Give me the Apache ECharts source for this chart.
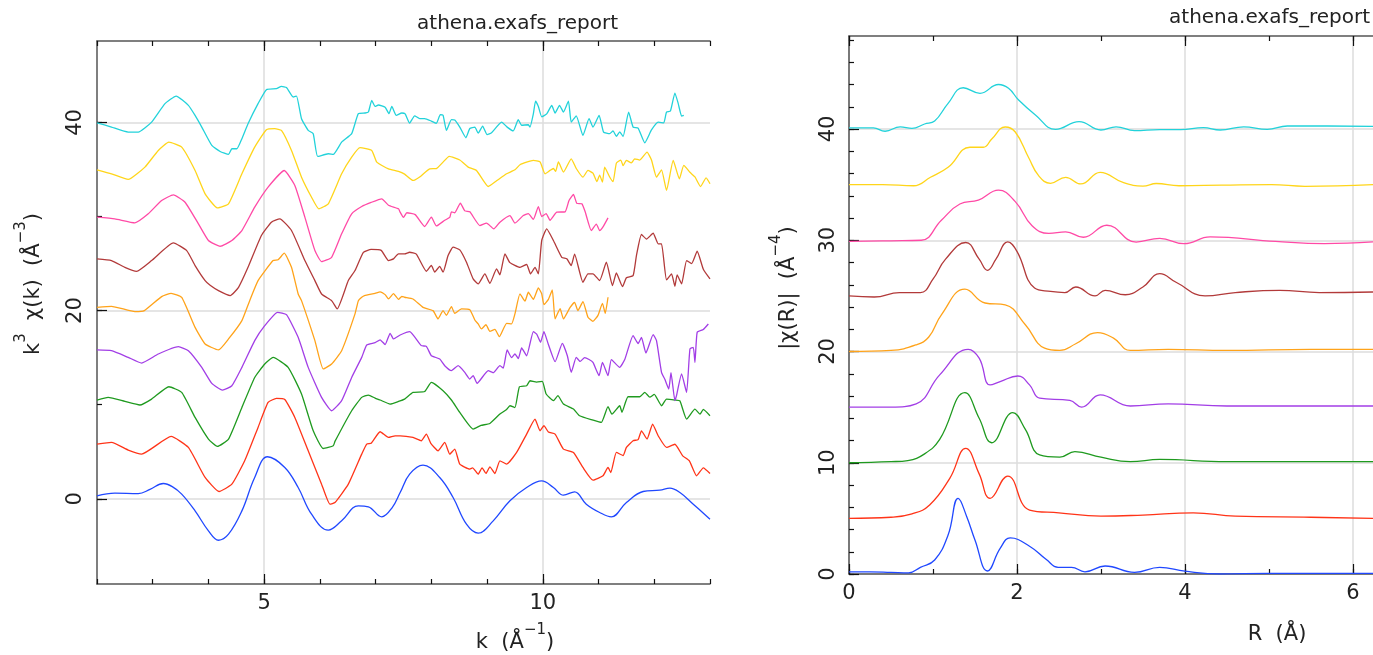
<!DOCTYPE html>
<html><head><meta charset="utf-8">
<script src="https://cdn.jsdelivr.net/npm/echarts@6/dist/echarts.min.js"></script>
<style>html,body{margin:0;padding:0;background:#fff}#c{width:1373px;height:655px}</style>
</head><body><div id="c"></div>
<script>
// ---------- tick definitions ----------
const kMinorTicks = [2,3,4,5,6,7,8,9,10,11,12,13];
const kMajorTicks = [5,10];
const chiMinorTicks = [0,10,20,30,40];
const chiMajorTicks = [0,20,40];
const rMinorTicks = [0,1,2,3,4,5,6];
const rMajorTicks = [0,2,4,6];
const ftMinorTicks = [0,2,4,6,8,10,12,14,16,18,20,22,24,26,28,30,32,34,36,38,40,42,44,46,48];
const ftMajorTicks = [0,10,20,30,40];

// ---------- k-space data: [k, k^3 chi(k) + offset] ----------
const chiBlue = [[2.00,0.32],[2.32,0.6],[2.74,0.56],[2.95,1.0],[3.19,1.63],[3.35,1.3],[3.52,0.5],[3.76,-1.28],[4.00,-3.4],[4.18,-4.4],[4.36,-3.76],[4.60,-1.28],[4.83,2.27],[5.06,4.47],[5.37,3.33],[5.61,1.2],[5.85,-1.63],[6.15,-3.33],[6.39,-2.34],[6.69,-0.74],[6.87,-0.85],[7.11,-1.91],[7.30,-0.9],[7.44,0.67],[7.61,2.62],[7.85,3.58],[8.15,2.27],[8.39,0.14],[8.63,-2.7],[8.84,-3.65],[9.11,-2.34],[9.41,-0.21],[9.71,1.2],[9.98,1.91],[10.19,1.2],[10.37,0.39],[10.57,0.74],[10.78,-0.57],[11.02,-1.45],[11.23,-1.91],[11.5,-0.39],[11.8,0.78],[12.1,0.92],[12.28,1.14],[12.46,0.67],[12.7,-0.57],[13.0,-2.16]];
const chiRed = [[2.00,5.82],[2.26,5.99],[2.56,5.18],[2.80,4.75],[3.33,6.63],[3.64,5.46],[3.94,2.27],[4.19,0.78],[4.42,1.56],[4.65,4.04],[4.89,7.59],[5.07,10.24],[5.22,10.67],[5.37,10.56],[5.55,8.65],[5.79,5.1],[6.03,1.56],[6.18,-0.57],[6.27,-0.39],[6.51,1.56],[6.75,4.75],[6.84,5.82],[6.92,5.9],[7.08,7.13],[7.23,6.52],[7.35,6.7],[7.44,6.7],[7.67,6.52],[7.82,6.17],[7.91,6.88],[7.99,5.9],[8.12,5.1],[8.24,6.0],[8.33,4.75],[8.42,5.28],[8.51,3.69],[8.69,3.16],[8.74,3.3],[8.84,2.62],[8.91,3.3],[8.98,2.7],[9.05,3.4],[9.14,2.69],[9.23,4.04],[9.35,3.69],[9.53,4.93],[9.71,6.88],[9.86,8.47],[9.95,7.23],[10.02,7.77],[10.10,7.1],[10.22,6.88],[10.37,5.28],[10.55,4.93],[10.72,3.33],[10.90,1.98],[11.08,2.45],[11.17,3.33],[11.22,2.8],[11.32,4.93],[11.44,4.6],[11.50,5.46],[11.62,6.17],[11.71,6.3],[11.77,7.23],[11.87,6.35],[11.97,7.94],[12.07,6.7],[12.22,5.46],[12.37,5.8],[12.51,4.57],[12.63,4.04],[12.76,2.45],[12.88,3.3],[13.0,2.69]];
const chiGreen = [[2.00,10.5],[2.20,10.78],[2.50,10.35],[2.77,9.97],[2.98,10.6],[3.29,11.91],[3.52,11.31],[3.76,8.65],[4.00,6.35],[4.16,5.57],[4.36,6.35],[4.60,9.71],[4.83,12.9],[5.01,14.33],[5.16,15.03],[5.43,13.97],[5.67,11.14],[5.88,7.23],[6.06,5.35],[6.24,5.64],[6.27,6.1],[6.57,9.36],[6.75,10.78],[6.87,11.03],[6.99,10.7],[7.08,10.5],[7.26,10.07],[7.41,10.35],[7.52,10.6],[7.67,11.31],[7.88,11.4],[8.00,12.37],[8.21,11.49],[8.36,10.5],[8.51,9.18],[8.75,7.41],[8.89,7.8],[9.05,8.01],[9.23,9.01],[9.35,9.5],[9.41,9.89],[9.50,9.7],[9.58,11.91],[9.71,12.02],[9.77,12.55],[9.89,12.4],[9.99,12.48],[10.06,11.14],[10.19,10.43],[10.27,10.96],[10.37,10.07],[10.55,9.54],[10.66,8.83],[10.90,8.37],[11.05,8.12],[11.17,9.79],[11.24,9.0],[11.38,9.89],[11.42,9.2],[11.53,10.85],[11.74,10.85],[11.83,11.31],[11.92,10.8],[12.00,11.1],[12.13,9.89],[12.22,10.6],[12.37,10.5],[12.46,10.4],[12.58,8.47],[12.73,9.54],[12.82,9.0],[12.88,9.5],[13.0,8.83]];
const chiPurple = [[2.00,15.82],[2.26,15.74],[2.56,15.03],[2.80,14.43],[3.10,15.39],[3.46,16.17],[3.64,15.74],[3.88,13.97],[4.06,12.27],[4.25,11.56],[4.42,12.02],[4.60,13.97],[4.83,16.81],[5.01,18.4],[5.24,19.82],[5.40,19.57],[5.61,17.16],[5.79,13.97],[6.03,10.78],[6.21,9.36],[6.39,10.43],[6.57,12.9],[6.75,15.03],[6.84,16.35],[6.99,16.6],[7.08,16.9],[7.17,16.4],[7.26,17.59],[7.32,17.0],[7.44,17.41],[7.61,17.77],[7.82,16.28],[7.91,16.2],[8.00,15.21],[8.15,14.86],[8.24,14.15],[8.36,13.62],[8.48,14.15],[8.60,13.44],[8.69,12.73],[8.75,13.1],[8.82,12.27],[9.02,13.62],[9.11,13.4],[9.23,14.15],[9.29,13.9],[9.36,15.82],[9.44,15.0],[9.50,15.4],[9.56,14.9],[9.62,16.03],[9.71,15.2],[9.83,17.77],[9.89,17.5],[9.96,16.63],[10.02,17.77],[10.10,16.4],[10.22,14.57],[10.35,16.52],[10.44,15.2],[10.51,13.44],[10.60,15.03],[10.67,14.6],[10.75,15.0],[10.83,14.8],[10.90,14.5],[11.01,13.09],[11.07,14.5],[11.17,13.09],[11.23,14.8],[11.38,13.97],[11.47,14.8],[11.62,17.34],[11.71,16.5],[11.77,17.16],[11.85,15.5],[11.98,17.45],[12.04,16.8],[12.13,13.44],[12.19,12.7],[12.26,11.67],[12.30,13.4],[12.37,10.43],[12.40,11.0],[12.49,13.27],[12.58,11.31],[12.64,15.92],[12.70,16.1],[12.73,14.5],[12.77,17.7],[12.88,18.0],[12.97,18.58]];
const chiOrange = [[2.00,20.35],[2.26,20.46],[2.68,19.89],[2.85,20.0],[3.16,21.49],[3.33,21.84],[3.52,21.4],[3.76,18.22],[3.94,16.46],[4.18,15.82],[4.36,16.99],[4.60,18.94],[4.74,21.06],[4.89,23.19],[5.16,25.32],[5.25,25.4],[5.36,26.1],[5.49,24.6],[5.61,21.77],[5.67,21.06],[5.91,16.81],[6.06,13.8],[6.21,14.33],[6.39,15.74],[6.63,19.65],[6.69,21.06],[6.75,21.42],[6.80,21.6],[6.99,21.84],[7.08,22.0],[7.17,21.7],[7.23,21.24],[7.32,21.8],[7.41,21.2],[7.47,21.5],[7.52,21.42],[7.67,21.24],[7.85,20.35],[8.03,20.0],[8.12,19.12],[8.21,20.0],[8.27,19.5],[8.36,20.43],[8.42,19.7],[8.54,20.18],[8.69,20.1],[8.78,19.0],[8.84,18.58],[8.90,18.05],[8.98,18.5],[9.05,17.8],[9.14,18.0],[9.22,17.23],[9.35,18.65],[9.44,18.6],[9.50,19.65],[9.59,21.77],[9.68,21.0],[9.74,21.95],[9.83,21.2],[9.92,22.41],[9.98,21.8],[10.02,20.64],[10.10,21.2],[10.17,22.2],[10.22,19.12],[10.31,20.2],[10.37,19.12],[10.49,20.35],[10.57,20.88],[10.63,20.0],[10.72,20.96],[10.81,19.3],[10.90,18.86],[10.99,19.5],[11.07,20.78],[11.12,19.7],[11.17,21.42]];
const chiBrown = [[2.00,25.5],[2.26,25.32],[2.50,24.6],[2.71,24.18],[2.98,25.32],[3.37,27.2],[3.61,26.38],[3.76,24.79],[3.94,23.19],[4.03,22.7],[4.18,22.13],[4.39,21.6],[4.54,22.48],[4.71,24.6],[4.95,27.98],[5.13,29.4],[5.28,29.75],[5.49,28.51],[5.73,25.32],[5.91,23.19],[6.03,21.77],[6.21,21.06],[6.31,20.18],[6.51,23.19],[6.63,24.26],[6.78,26.2],[6.92,26.5],[7.10,26.4],[7.23,25.32],[7.32,25.5],[7.41,26.03],[7.52,26.03],[7.61,26.2],[7.73,26.0],[7.91,24.18],[8.00,24.8],[8.06,24.1],[8.15,24.7],[8.21,24.08],[8.30,25.85],[8.39,26.74],[8.51,26.45],[8.63,25.14],[8.75,23.37],[8.84,22.84],[8.96,23.9],[9.05,22.9],[9.17,24.43],[9.23,23.8],[9.32,26.03],[9.41,25.1],[9.59,24.6],[9.71,24.9],[9.78,23.9],[9.86,24.6],[9.92,23.9],[9.98,27.45],[10.07,28.69],[10.19,27.45],[10.34,25.67],[10.43,25.5],[10.51,24.79],[10.57,26.0],[10.72,23.01],[10.81,23.9],[10.90,23.9],[11.02,23.19],[11.14,25.14],[11.25,22.66],[11.32,24.0],[11.43,22.55],[11.50,23.5],[11.62,23.72],[11.68,25.85],[11.77,28.09],[11.86,27.6],[11.98,28.22],[12.07,27.1],[12.13,27.1],[12.22,23.26],[12.31,23.9],[12.37,22.59],[12.41,23.8],[12.49,22.84],[12.58,25.32],[12.67,25.0],[12.77,26.31],[12.88,24.4],[13.0,23.37]];
const chiPink = [[2.00,29.93],[2.32,29.75],[2.68,29.33],[2.92,30.29],[3.16,31.7],[3.37,32.3],[3.58,31.52],[3.82,29.22],[4.00,27.45],[4.21,26.84],[4.42,27.45],[4.60,28.51],[4.83,30.99],[5.07,33.12],[5.36,34.89],[5.55,33.3],[5.73,29.93],[5.91,26.38],[6.03,25.21],[6.21,25.67],[6.39,28.16],[6.57,30.29],[6.75,31.06],[6.92,31.5],[7.11,31.88],[7.23,31.2],[7.41,30.82],[7.44,30.46],[7.50,29.9],[7.56,30.4],[7.71,30.2],[7.88,28.94],[8.00,29.93],[8.09,29.0],[8.24,29.6],[8.33,29.9],[8.36,30.5],[8.42,30.4],[8.52,31.42],[8.60,30.6],[8.69,30.5],[8.87,29.04],[8.99,29.3],[9.12,28.69],[9.23,29.4],[9.41,30.1],[9.50,29.3],[9.65,30.1],[9.74,30.3],[9.83,29.7],[9.92,31.06],[9.98,30.0],[10.06,30.3],[10.13,29.6],[10.25,30.46],[10.40,30.5],[10.47,31.7],[10.55,32.34],[10.61,31.4],[10.70,31.35],[10.76,30.5],[10.87,28.51],[10.96,29.2],[11.02,28.5],[11.08,28.9],[11.17,29.86]];
const chiYellow = [[2.00,34.96],[2.26,34.54],[2.56,33.94],[2.86,35.25],[3.10,37.02],[3.29,37.9],[3.52,37.37],[3.76,34.89],[3.94,32.41],[4.16,30.92],[4.36,31.35],[4.60,34.54],[4.83,37.37],[5.04,39.22],[5.19,39.33],[5.31,39.15],[5.49,37.02],[5.67,34.18],[5.85,32.05],[5.98,30.82],[6.15,31.35],[6.39,34.54],[6.57,36.31],[6.72,37.31],[6.93,37.02],[7.02,35.78],[7.23,35.07],[7.41,34.8],[7.52,34.5],[7.67,33.83],[7.79,34.2],[7.97,35.07],[8.09,35.1],[8.21,35.78],[8.32,36.38],[8.51,36.0],[8.66,35.25],[8.81,34.89],[9.02,33.19],[9.17,33.8],[9.35,34.54],[9.50,34.96],[9.59,35.5],[9.83,35.96],[9.95,35.8],[10.04,34.54],[10.13,34.9],[10.19,35.1],[10.23,34.8],[10.28,35.8],[10.37,34.72],[10.51,36.13],[10.60,35.1],[10.72,34.18],[10.81,34.9],[10.90,34.6],[10.97,33.7],[11.02,34.4],[11.07,33.65],[11.11,35.25],[11.20,34.2],[11.26,33.7],[11.32,35.67],[11.40,36.0],[11.44,35.4],[11.50,35.96],[11.59,35.7],[11.65,36.13],[11.74,36.0],[11.87,36.84],[11.95,36.0],[12.04,34.18],[12.13,34.96],[12.22,32.77],[12.34,35.96],[12.45,34.0],[12.53,35.43],[12.64,34.7],[12.73,34.2],[12.83,33.19],[12.93,34.1],[13.0,33.48]];
const chiCyan = [[2.00,39.96],[2.26,39.5],[2.56,38.97],[2.74,38.97],[2.98,40.03],[3.22,41.99],[3.42,42.8],[3.64,41.81],[3.76,40.74],[3.88,39.5],[4.06,37.55],[4.21,36.91],[4.36,36.6],[4.42,37.2],[4.51,37.2],[4.60,38.27],[4.71,39.86],[4.89,41.99],[5.04,43.48],[5.22,43.58],[5.31,43.83],[5.40,43.7],[5.52,42.7],[5.58,42.8],[5.67,40.39],[5.79,39.15],[5.88,38.8],[5.96,36.38],[6.15,36.67],[6.24,36.6],[6.39,37.9],[6.57,38.8],[6.69,40.93],[6.81,41.0],[6.87,41.1],[6.93,42.34],[6.99,41.7],[7.05,41.85],[7.17,41.6],[7.24,40.93],[7.29,41.7],[7.37,40.74],[7.47,41.0],[7.53,40.9],[7.61,39.93],[7.70,40.7],[7.79,40.4],[7.88,40.4],[8.00,40.14],[8.09,39.9],[8.16,40.82],[8.21,40.75],[8.27,39.15],[8.36,40.3],[8.42,40.25],[8.51,39.5],[8.62,38.37],[8.69,39.35],[8.78,39.5],[8.84,38.86],[8.92,39.6],[9.00,38.7],[9.08,38.9],[9.26,40.03],[9.36,39.5],[9.47,39.1],[9.56,40.28],[9.62,39.7],[9.74,39.75],[9.77,39.5],[9.83,40.9],[9.87,42.27],[9.92,41.7],[9.98,40.6],[10.07,40.9],[10.16,41.8],[10.22,41.0],[10.30,41.8],[10.37,41.1],[10.46,42.27],[10.51,40.03],[10.60,40.7],[10.72,38.62],[10.83,40.4],[10.90,39.5],[11.01,40.74],[11.09,38.97],[11.20,38.8],[11.26,39.1],[11.32,38.51],[11.38,39.0],[11.44,38.5],[11.54,41.1],[11.62,39.5],[11.71,39.4],[11.83,37.84],[11.95,39.2],[12.07,40.03],[12.17,39.95],[12.22,41.1],[12.29,41.2],[12.37,43.12],[12.43,42.0],[12.49,40.67],[12.53,40.75]];

// ---------- R-space data: [R, |chi(R)| + offset] ----------
const ftBlue = [[0,0.2],[0.25,0.2],[0.5,0.15],[0.71,0.1],[0.85,0.6],[1.02,1.26],[1.18,3.5],[1.30,6.8],[1.40,5.2],[1.50,3.06],[1.65,0.27],[1.80,2.3],[1.92,3.24],[2.15,2.5],[2.35,1.3],[2.49,0.6],[2.65,0.6],[2.81,0.2],[3.05,0.72],[3.40,0.15],[3.70,0.6],[4.00,0.25],[4.42,0.0],[5.00,0.05],[6.24,0.05]];
const ftRed = [[0,5.0],[0.5,5.1],[0.75,5.4],[0.96,6.2],[1.20,8.6],[1.39,11.3],[1.55,9.0],[1.68,6.8],[1.89,8.8],[2.15,5.75],[2.50,5.5],[3.00,5.2],[3.50,5.3],[4.10,5.5],[4.60,5.2],[5.50,5.1],[6.24,5.0]];
const ftGreen = [[0,10.0],[0.5,10.1],[0.7,10.2],[0.9,10.8],[1.08,12.1],[1.38,16.3],[1.55,14.0],[1.70,11.8],[1.95,14.5],[2.10,13.0],[2.27,10.7],[2.51,10.5],[2.69,11.0],[3.00,10.5],[3.35,10.1],[3.70,10.3],[4.50,10.1],[6.24,10.1]];
const ftPurple = [[0,15.0],[0.5,15.0],[0.8,15.3],[1.08,17.9],[1.42,20.2],[1.55,19.4],[1.68,17.0],[1.80,17.3],[2.01,17.8],[2.15,17.0],[2.27,15.8],[2.63,15.6],[2.77,15.0],[2.99,16.1],[3.35,15.1],[3.80,15.3],[4.50,15.1],[5.50,15.1],[6.24,15.1]];
const ftOrange = [[0,20.0],[0.5,20.1],[0.8,20.6],[0.95,21.3],[1.10,23.3],[1.38,25.6],[1.62,24.36],[1.86,24.2],[2.10,22.4],[2.33,20.3],[2.51,20.1],[2.70,20.7],[2.96,21.7],[3.15,21.2],[3.35,20.1],[3.80,20.2],[4.50,20.1],[5.50,20.2],[6.24,20.2]];
const ftBrown = [[0,25.0],[0.3,24.9],[0.6,25.3],[0.85,25.3],[1.00,26.5],[1.15,28.3],[1.39,29.8],[1.55,28.3],[1.65,27.3],[1.75,28.3],[1.89,29.85],[2.00,29.0],[2.21,25.7],[2.40,25.4],[2.57,25.3],[2.70,25.8],[2.93,25.0],[3.05,25.5],[3.29,25.1],[3.50,25.8],[3.70,27.0],[3.90,26.2],[4.24,25.0],[4.60,25.3],[5.13,25.5],[5.60,25.3],[6.24,25.35]];
const ftPink = [[0,29.9],[0.5,29.95],[0.86,30.0],[1.10,31.8],[1.32,33.26],[1.54,33.6],[1.78,34.5],[1.98,33.47],[2.18,31.31],[2.38,30.62],[2.58,30.76],[2.79,30.27],[3.07,31.35],[3.42,29.84],[3.70,30.17],[3.99,29.69],[4.30,30.3],[5.08,29.9],[5.66,29.7],[6.24,29.85]];
const ftYellow = [[0,35.0],[0.4,35.0],[0.77,34.9],[0.97,35.66],[1.18,36.56],[1.44,38.36],[1.60,38.36],[1.70,39.1],[1.86,40.18],[1.98,39.73],[2.14,37.42],[2.26,35.78],[2.40,35.12],[2.58,35.66],[2.76,35.06],[2.99,36.1],[3.27,35.17],[3.50,34.87],[3.66,35.1],[3.93,34.9],[4.44,34.95],[5.03,35.0],[5.43,34.85],[6.24,35.0]];
const ftCyan = [[0,40.1],[0.29,40.1],[0.43,39.8],[0.61,40.2],[0.75,40.06],[0.90,40.45],[1.02,40.72],[1.18,42.31],[1.36,43.71],[1.56,43.21],[1.78,44.0],[1.90,43.66],[2.02,42.6],[2.22,41.26],[2.46,39.97],[2.74,40.66],[3.00,39.91],[3.18,40.2],[3.40,39.85],[3.70,39.95],[3.95,39.95],[4.22,40.12],[4.42,39.91],[4.70,40.2],[4.98,39.97],[5.22,40.27],[5.55,40.27],[6.24,40.24]];

const colors = ['#2048ff','#ff3418','#1f9a1f','#a23ee6','#ffa31a','#b23a3a','#ff4aa6','#ffd51a','#22d2da'];
const chiSets = [chiBlue,chiRed,chiGreen,chiPurple,chiOrange,chiBrown,chiPink,chiYellow,chiCyan];
const ftSets = [ftBlue,ftRed,ftGreen,ftPurple,ftOrange,ftBrown,ftPink,ftYellow,ftCyan];

const FONT = 'DejaVu Sans';
const axisLineStyle = {color:'#555', width:1.5};
const gridLine = {show:true, lineStyle:{color:'#dcdcdc', width:1.5}};

function xPair(grid, min, max, minor, major, pos, labels, split){
  return [
    {type:'value', gridIndex:grid, position:pos, min:min, max:max,
     axisLine:{show:true, onZero:false, lineStyle:axisLineStyle},
     axisTick:{show:true, inside:true, length:5, customValues:minor, lineStyle:{color:'#111', width:1.2}},
     axisLabel:{show:false}, splitLine:{show:false}},
    {type:'value', gridIndex:grid, position:pos, min:min, max:max,
     axisLine:{show:false, onZero:false},
     axisTick:{show:true, inside:true, length:10, customValues:major, lineStyle:{color:'#111', width:1.2}},
     axisLabel:{show:labels, customValues:major, fontFamily:FONT, fontSize:21, color:'#222', margin:9},
     splitLine: split ? gridLine : {show:false}}
  ];
}
function yPair(grid, min, max, minor, major, labelMargin){
  return [
    {type:'value', gridIndex:grid, position:'left', min:min, max:max,
     axisLine:{show:true, onZero:false, lineStyle:axisLineStyle},
     axisTick:{show:true, inside:true, length:5, customValues:minor, lineStyle:{color:'#111', width:1.2}},
     axisLabel:{show:false}, splitLine:{show:false}},
    {type:'value', gridIndex:grid, position:'left', min:min, max:max,
     axisLine:{show:false, onZero:false},
     axisTick:{show:true, inside:true, length:10, customValues:major, lineStyle:{color:'#111', width:1.2}},
     axisLabel:{show:true, rotate:90, customValues:major, fontFamily:FONT, fontSize:21, color:'#222', margin:labelMargin},
     splitLine: gridLine}
  ];
}

const xAxes = [].concat(
  xPair(0, 2, 13, kMinorTicks, kMajorTicks, 'bottom', true, true),
  xPair(0, 2, 13, kMinorTicks, kMajorTicks, 'top', false, false),
  xPair(1, 0, 6.24, rMinorTicks, rMajorTicks, 'bottom', true, true),
  xPair(1, 0, 6.24, rMinorTicks, rMajorTicks, 'top', false, false)
);
const yAxes = [].concat(
  yPair(0, -9.05, 48.65, chiMinorTicks, chiMajorTicks, 11),
  yPair(1, 0, 48.36, ftMinorTicks, ftMajorTicks, 10)
);

const series = [];
chiSets.forEach((d,i)=>series.push({type:'line', xAxisIndex:1, yAxisIndex:1, data:d, symbol:'none', smooth:i===0?0.4:0.15,
  lineStyle:{color:colors[i], width:1.3}, z:3, silent:true}));
ftSets.forEach((d,i)=>series.push({type:'line', xAxisIndex:5, yAxisIndex:3, data:d, symbol:'none', smooth:0.45,
  lineStyle:{color:colors[i], width:1.3}, z:3, silent:true}));

const richStyles = {
  n:{fontSize:21, fontFamily:FONT, fill:'#222', lineHeight:30, verticalAlign:'bottom'},
  s:{fontSize:15, fontFamily:FONT, fill:'#222', lineHeight:30, verticalAlign:'top'}
};
const txt = (x,y,text,opts) => Object.assign({type:'text', x:x, y:y, silent:true,
  style:Object.assign({text:text, fill:'#222', font:'20px "DejaVu Sans"'}, opts||{})});
const richTxt = (x,y,text,rot) => ({type:'text', x:x, y:y, rotation:rot||0, silent:true,
  style:{text:text, rich:richStyles, align:'center', verticalAlign:'middle', fill:'#222', font:'21px "DejaVu Sans"'}});

const option = {
  animation:false,
  backgroundColor:'#fff',
  grid:[
    {left:97, top:41, width:613, height:543, containLabel:false},
    {left:849, top:36, width:524, height:538, containLabel:false}
  ],
  xAxis:xAxes,
  yAxis:yAxes,
  series:series,
  graphic:[
    txt(618, 24, 'athena.exafs_report', {align:'right', verticalAlign:'middle'}),
    txt(1370, 18, 'athena.exafs_report', {align:'right', verticalAlign:'middle'}),
    richTxt(515, 638, '{n|k  (Å}{s|−1}{n|)}'),
    richTxt(1277, 630, '{n|R  (Å)}'),
    richTxt(29, 284, '{n|k}{s|3}{n|  χ(k)  (Å}{s|−3}{n|)}', Math.PI/2),
    richTxt(784, 288, '{n||χ(R)|  (Å}{s|−4}{n|)}', Math.PI/2)
  ]
};
const chart = echarts.init(document.getElementById('c'), null, {renderer:'canvas'});
chart.setOption(option);
</script></body></html>
